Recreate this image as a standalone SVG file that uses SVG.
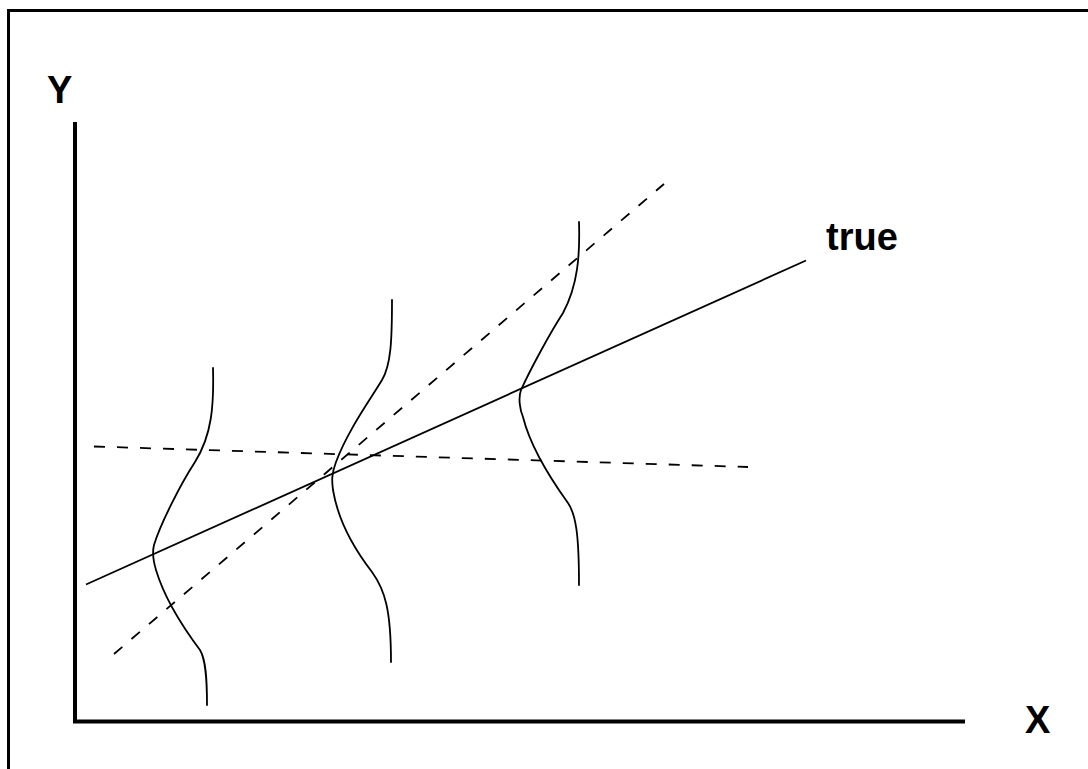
<svg xmlns="http://www.w3.org/2000/svg" width="1088" height="769" viewBox="0 0 1088 769">
<style>
.lbl{font-family:"Liberation Sans",Arial,sans-serif;font-weight:bold;font-size:38px;fill:#000}
.ax{stroke:#000;stroke-width:4;fill:none}
.ln{stroke:#000;stroke-width:1.8;fill:none}
.dash{stroke:#000;stroke-width:1.8;fill:none;stroke-dasharray:11 12}
.dist{stroke:#000;stroke-width:1.8;fill:none;stroke-linecap:round}
</style>
<rect x="0" y="0" width="1088" height="769" fill="#fff"/>
<rect id="frame" x="8.5" y="10.5" width="1100" height="780" fill="none" stroke="#000" stroke-width="3"/>
<g id="axes">
<path class="ax" d="M75,122 V721.5 H965"/>
</g>
<g id="label-y"><text class="lbl" x="47" y="103">Y</text></g>
<g id="label-x"><text class="lbl" x="1025" y="733">X</text></g>
<g id="label-true"><text class="lbl" x="826" y="250">true</text></g>
<g id="connectors">
<line id="true-line" class="ln" x1="86" y1="584.5" x2="806" y2="260.5"/>
<line id="dashed-steep" class="dash" x1="114" y1="654" x2="664" y2="184"/>
<line id="dashed-flat" class="dash" x1="94" y1="446.5" x2="748" y2="467"/>
</g>
<g id="dist-1">
<path class="dist" d="M213,368 C214,405 212,435 195,462 C180,485 160,525 154,545 C152,553 153,560 156,570 C165,600 185,630 200,650 C206,660 207,680 207,705"/>
</g>
<g id="dist-2">
<path class="dist" d="M392,300 C392,340 391,365 382,380 C370,400 348,430 336,462 C331,475 332,482 333,490 C338,520 355,550 372,572 C385,590 391,610 391,662"/>
</g>
<g id="dist-3">
<path class="dist" d="M579,222 C580,255 578,285 563,313 C550,333 530,370 521,390 C518,398 520,410 523,417 C530,445 550,478 568,503 C576,515 579,535 579,585"/>
</g>
</svg>
